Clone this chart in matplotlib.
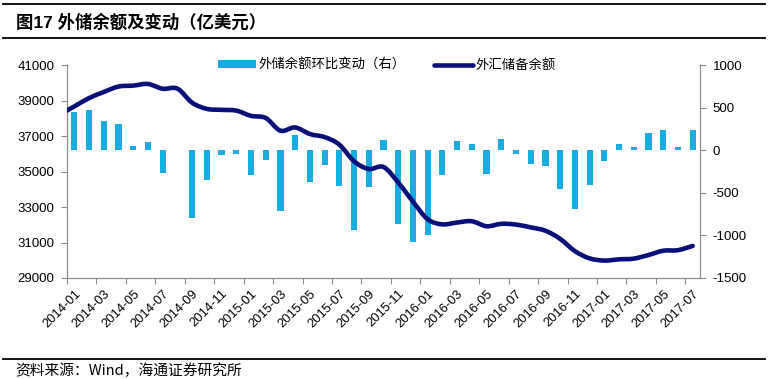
import matplotlib
matplotlib.use('Agg')
import matplotlib.pyplot as plt
import numpy as np
from matplotlib.lines import Line2D
from matplotlib.patches import Patch, PathPatch
from matplotlib.path import Path
from matplotlib.font_manager import FontProperties

# ---------------- data ----------------
months = [f"{y}-{m:02d}" for y in range(2014, 2018) for m in range(1, 13)][:43]
reserve_months = ["2013-12"] + months
# 外汇储备余额 (亿美元), left axis
reserves = [38213,
            38666, 39137, 39481, 39788, 39839, 39932, 39662, 39668, 38877, 38529, 38473, 38430,
            38134, 38015, 37300, 37481, 37111, 36939, 36513, 35574, 35141, 35255, 34383, 33304,
            32309, 32023, 32126, 32197, 31917, 32052, 32011, 31852, 31664, 31206, 30516, 30105,
            29982, 30051, 30091, 30295, 30536, 30568, 30807]
# 外储余额环比变动 (亿美元), right axis
changes = [453, 471, 344, 307, 51, 93, -270, 6, -791, -348, -56, -43,
           -296, -119, -715, 181, -370, -172, -426, -939, -433, 114, -872, -1079,
           -995, -286, 103, 71, -280, 135, -41, -159, -188, -458, -690, -411,
           -123, 69, 40, 204, 241, 32, 239]
tick_labels = months[::2]
left_ticks = [29000, 31000, 33000, 35000, 37000, 39000, 41000]
right_ticks = [-1500, -1000, -500, 0, 500, 1000]

bar_label = "外储余额环比变动（右）"
line_label = "外汇储备余额"
title = "图17 外储余额及变动（亿美元）"
source = "资料来源：Wind，海通证券研究所"

# ---------------- style ----------------
bar_color = "#1AABE3"
line_color = "#0B0F7A"
axis_color = "#8C8C8C"
num_font = ["Liberation Sans", "Noto Sans CJK SC"]
cjk_font = ["Noto Sans CJK SC", "DejaVu Sans"]
plt.rcParams["font.family"] = num_font

W, H = 771, 379
fig = plt.figure(figsize=(W / 100, H / 100), dpi=100)
fig.patch.set_facecolor("white")

left, right, top, bottom = 67, 700, 65, 278
ax_l = fig.add_axes([left / W, 1 - bottom / H, (right - left) / W, (bottom - top) / H])
ax_r = ax_l.twinx()
ax_l.set_zorder(ax_r.get_zorder() + 1)
ax_l.patch.set_visible(False)

x_bar = np.arange(len(months))
x_line = np.arange(len(reserve_months)) - 1

ax_r.bar(x_bar, changes, width=0.42, color=bar_color, zorder=2)


def smooth_path(xs, ys, tension=1.0 / 6.0):
    """Catmull-Rom style cubic Bezier path through the data points (Excel 'smoothed line')."""
    xs = np.asarray(xs, float)
    ys = np.asarray(ys, float)
    pts = np.column_stack([xs, ys])
    verts = [pts[0]]
    codes = [Path.MOVETO]
    n = len(pts)
    for i in range(n - 1):
        p0 = pts[i - 1] if i > 0 else pts[i]
        p1 = pts[i]
        p2 = pts[i + 1]
        p3 = pts[i + 2] if i + 2 < n else pts[i + 1]
        c1 = p1 + (p2 - p0) * tension
        c2 = p2 - (p3 - p1) * tension
        verts += [c1, c2, p2]
        codes += [Path.CURVE4] * 3
    return Path(verts, codes)


ax_l.add_patch(PathPatch(smooth_path(x_line, reserves), facecolor="none", edgecolor=line_color,
                         lw=3.3, capstyle="round", joinstyle="round", zorder=3))

ax_l.set_xlim(-0.5, len(months) - 0.5)
ax_l.set_ylim(29000, 41000)
ax_r.set_ylim(-1500, 1000)

ax_l.set_yticks(left_ticks)
ax_l.set_yticklabels([str(v) for v in left_ticks])
ax_r.set_yticks(right_ticks)
ax_r.set_yticklabels([str(v) for v in right_ticks])

ax_l.set_xticks(x_bar[::2])
ax_l.set_xticklabels(tick_labels, rotation=45, ha="right", rotation_mode="anchor")
ax_l.set_xticks(np.arange(-0.5, len(months), 2), minor=True)
ax_l.tick_params(axis="x", which="major", length=0, pad=7, labelsize=9.3)
ax_l.tick_params(axis="x", which="minor", length=4, width=0.8, color=axis_color, direction="out")
ax_l.tick_params(axis="y", length=4, width=0.8, color=axis_color, labelsize=9.5, pad=5)
ax_r.tick_params(axis="y", length=4, width=0.8, color=axis_color, labelsize=9.5, pad=5)

for a in (ax_l, ax_r):
    a.spines["top"].set_visible(False)
    for s in ("left", "right", "bottom"):
        a.spines[s].set_color(axis_color)
        a.spines[s].set_linewidth(0.9)
ax_l.spines["right"].set_visible(False)
ax_r.spines["left"].set_visible(False)
ax_r.spines["bottom"].set_visible(False)

handles = [Patch(facecolor=bar_color, edgecolor="none"),
           Line2D([], [], color=line_color, lw=3.3, solid_capstyle="round")]
ax_l.legend(handles, [bar_label, line_label], loc="center", bbox_to_anchor=(0.505, 1.0),
            ncol=2, frameon=False, prop=FontProperties(family=cjk_font, size=9.6),
            handlelength=2.9, handleheight=0.5, columnspacing=2.1, handletextpad=0.2)

# ---------------- decorations ----------------
for yy in (4, 37.7, 358.5):
    fig.add_artist(Line2D([3 / W, 765 / W], [1 - yy / H, 1 - yy / H], color="black",
                          lw=1.3, transform=fig.transFigure))
fig.text(16 / W, 1 - 21.5 / H, title, fontsize=12.5, fontweight="bold",
         family=["Liberation Sans", "Noto Sans CJK SC"], va="center", ha="left")
fig.text(15 / W, 1 - 371 / H, source, fontsize=10.6, family=cjk_font, va="center", ha="left")

fig.savefig("out.png", dpi=100, facecolor="white")
